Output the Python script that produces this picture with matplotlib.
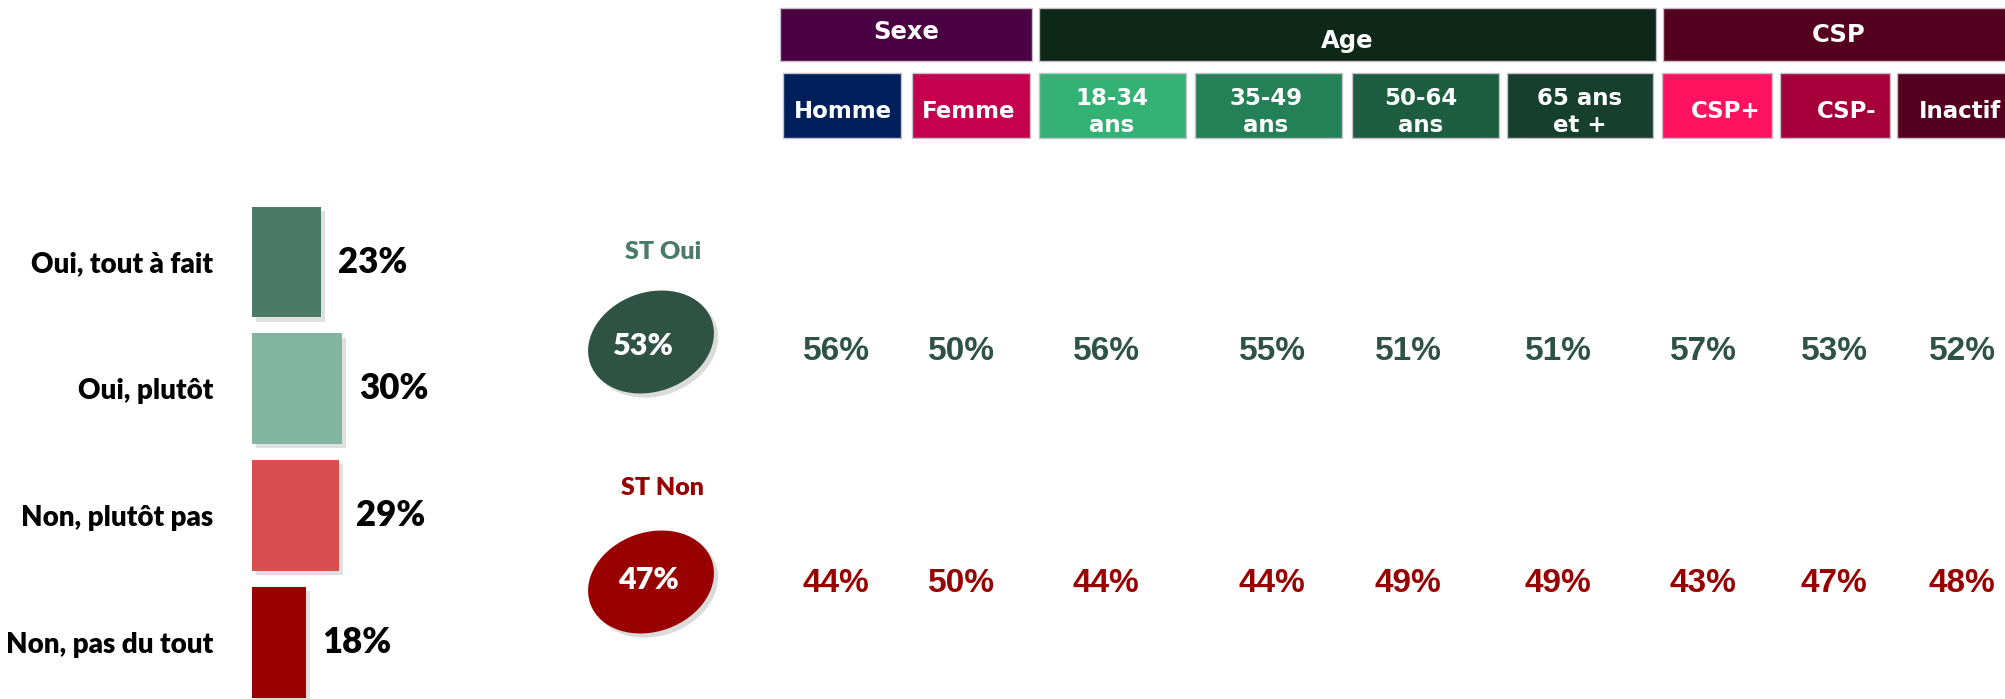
import matplotlib
matplotlib.use("Agg")
import matplotlib.pyplot as plt
from matplotlib.patches import Rectangle, Ellipse
import matplotlib.patheffects as pe
from matplotlib import font_manager

# ---------------- data ----------------
answers = ["Oui, tout à fait", "Oui, plutôt", "Non, plutôt pas", "Non, pas du tout"]
answer_values = [23, 30, 29, 18]
st_labels = ["ST Oui", "ST Non"]
st_values = [53, 47]
groups = ["Sexe", "Age", "CSP"]
segments = ["Homme", "Femme", "18-34\nans", "35-49\nans", "50-64\nans",
            "65 ans\net +", "CSP+", "CSP-", "Inactif"]
oui_values = [56, 50, 56, 55, 51, 51, 57, 53, 52]
non_values = [44, 50, 44, 44, 49, 49, 43, 47, 48]

# ---------------- styles / layout ----------------
bar_colors = ["#4A7A68", "#82B5A0", "#D94F50", "#990000"]
st_colors = ["#2E5244", "#990000"]
st_title_colors = ["#4A7A68", "#990000"]
value_colors = ["#2E5244", "#990000"]
group_colors = ["#4A0042", "#0D2818", "#55001E"]
seg_colors = ["#00205B", "#C4004F", "#34B174", "#248056", "#1D5E40",
              "#163F2E", "#FF1260", "#A6003A", "#55001E"]
group_span = [(780, 1032), (1039, 1656), (1663, 2015)]
group_text_y = [32, 41, 35]
seg_span = [(783, 901), (912, 1030), (1039, 1186), (1195, 1342), (1352, 1499),
            (1507, 1653), (1662, 1772), (1780, 1890), (1897, 2018)]
seg_text_x = [843, 969, 1112, 1266, 1421, 1580, 1726, 1847, 1960]
col_x = [836, 961, 1106, 1272, 1408, 1558, 1703, 1834, 1962]
row_y = [351, 583]
st_center = [(651, 342), (651, 582)]
st_text = [(643, 346), (648, 580)]
st_title_y = [252, 488]
st_title_x = 663

W, H = 2006, 699
avail = {f.name for f in font_manager.fontManager.ttflist}
num_font = ["Liberation Sans Narrow", "Liberation Sans"] if "Liberation Sans Narrow" in avail else ["Liberation Sans"]
lab_font = ["Lato", "DejaVu Sans"]
head_font = ["DejaVu Sans"]
LW = 800

fig = plt.figure(figsize=(W / 100, H / 100), dpi=100)
fig.patch.set_facecolor("white")

shadow = [pe.SimplePatchShadow(offset=(3, -3), shadow_rgbFace="#999999", alpha=0.3), pe.Normal()]

# ---------------- left bar chart ----------------
ax_l, ax_r = 252, 452
y_top, y_bot = 198.6, 705.9
ax = fig.add_axes([ax_l / W, 1 - y_bot / H, (ax_r - ax_l) / W, (y_bot - y_top) / H])
pos = list(range(len(answers)))
bars = ax.barh(pos, answer_values, height=0.875, color=bar_colors)
for b in bars:
    b.set_path_effects(shadow)
ax.set_xlim(0, (ax_r - ax_l) / 3.0)
ax.set_ylim(len(answers) - 0.5, -0.5)
ax.set_yticks(pos)
ax.set_yticklabels(answers, fontsize=20, fontweight=LW, family=lab_font)
ax.tick_params(axis="y", length=0, pad=28)
ax.set_xticks([])
for s in ax.spines.values():
    s.set_visible(False)
ax.patch.set_alpha(0)
for p, v in zip(pos, answer_values):
    ax.annotate(f"{v}%", (v, p), xytext=(12, 0), textcoords="offset points",
                ha="left", va="center", fontsize=25, fontweight=LW,
                family=lab_font, color="black")

# ---------------- right part: headers, ST, breakdown ----------------
tab = fig.add_axes([0, 0, 1, 1])
tab.set_xlim(0, W)
tab.set_ylim(H, 0)
tab.axis("off")
tab.patch.set_alpha(0)

for g, (x0, x1), c, ty in zip(groups, group_span, group_colors, group_text_y):
    tab.add_patch(Rectangle((x0, 8), x1 - x0, 53, facecolor=c, edgecolor="#C9BFCB", lw=1))
    tab.text((x0 + x1) / 2, ty, g, color="white", ha="center", va="center",
             fontsize=17.5, fontweight="bold", family=head_font)
for s, (x0, x1), c, tx in zip(segments, seg_span, seg_colors, seg_text_x):
    tab.add_patch(Rectangle((x0, 73), x1 - x0, 65, facecolor=c, edgecolor="#C9BFCB", lw=1))
    tab.text(tx, 112, s, color="white", ha="center", va="center",
             fontsize=16.5, fontweight="bold", family=head_font, linespacing=1.2)

for i in range(2):
    cx, cy = st_center[i]
    e = Ellipse((cx, cy), 129, 99, angle=-20, facecolor=st_colors[i], edgecolor="none")
    e.set_path_effects([pe.SimplePatchShadow(offset=(3, -3), shadow_rgbFace="#999999", alpha=0.35), pe.Normal()])
    tab.add_patch(e)
    tab.text(st_text[i][0], st_text[i][1], f"{st_values[i]}%", color="white",
             ha="center", va="center", fontsize=22, fontweight=LW, family=lab_font)
    tab.text(st_title_x, st_title_y[i], st_labels[i], color=st_title_colors[i],
             ha="center", va="center", fontsize=18, fontweight=LW, family=lab_font)

for row, vals in enumerate([oui_values, non_values]):
    for x, v in zip(col_x, vals):
        tab.text(x, row_y[row], f"{v}%", color=value_colors[row], ha="center",
                 va="center", fontsize=24, fontweight="bold", family=num_font)

fig.savefig("out.png", dpi=100, facecolor="white")
